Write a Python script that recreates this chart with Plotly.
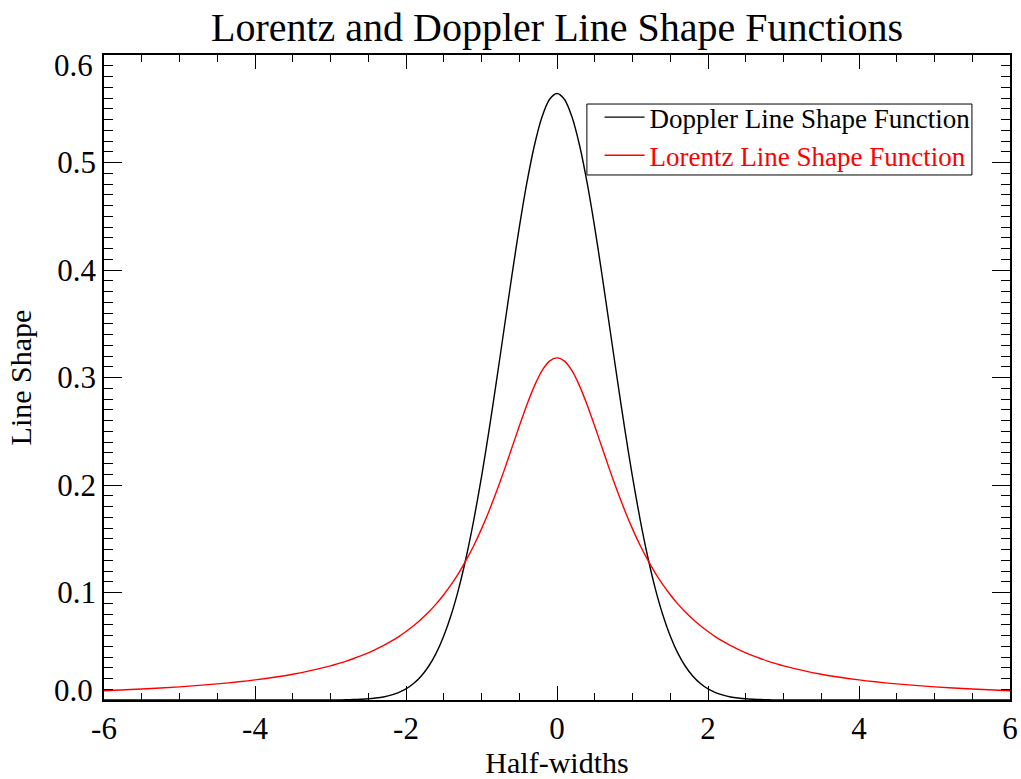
import plotly.graph_objects as go

# Half-width positions (x): coarse in the far wings, fine near the centre
half_widths = [-6.0, -5.5, -5.0, -4.5, -4.0, -3.5,
               -3.0, -2.9, -2.8, -2.7, -2.6, -2.5, -2.4, -2.3, -2.2, -2.1,
               -2.0, -1.9, -1.8, -1.7, -1.6, -1.5, -1.4, -1.3, -1.2, -1.1,
               -1.0, -0.9, -0.8, -0.7, -0.6, -0.5, -0.4, -0.3, -0.2, -0.1,
               0.0,
               0.1, 0.2, 0.3, 0.4, 0.5, 0.6, 0.7, 0.8, 0.9, 1.0,
               1.1, 1.2, 1.3, 1.4, 1.5, 1.6, 1.7, 1.8, 1.9, 2.0,
               2.1, 2.2, 2.3, 2.4, 2.5, 2.6, 2.7, 2.8, 2.9, 3.0,
               3.5, 4.0, 4.5, 5.0, 5.5, 6.0]

doppler = [0.0, 0.0, 0.0, 0.0, 0.0, 0.0,
           0.0001, 0.0001, 0.0002, 0.0004, 0.0007, 0.0011, 0.0018, 0.0028, 0.0045, 0.0069,
           0.0103, 0.0153, 0.0221, 0.0314, 0.0436, 0.0595, 0.0795, 0.1041, 0.1337, 0.1682,
           0.2076, 0.2510, 0.2975, 0.3456, 0.3936, 0.4394, 0.4808, 0.5156, 0.5421, 0.5586,
           0.5642,
           0.5586, 0.5421, 0.5156, 0.4808, 0.4394, 0.3936, 0.3456, 0.2975, 0.2510, 0.2076,
           0.1682, 0.1337, 0.1041, 0.0795, 0.0595, 0.0436, 0.0314, 0.0221, 0.0153, 0.0103,
           0.0069, 0.0045, 0.0028, 0.0018, 0.0011, 0.0007, 0.0004, 0.0002, 0.0001, 0.0001,
           0.0, 0.0, 0.0, 0.0, 0.0, 0.0]

lorentz = [0.0086, 0.0102, 0.0122, 0.0150, 0.0187, 0.0240,
           0.0318, 0.0338, 0.0360, 0.0384, 0.0410, 0.0439, 0.0471, 0.0506, 0.0545, 0.0588,
           0.0637, 0.0690, 0.0751, 0.0818, 0.0894, 0.0979, 0.1075, 0.1183, 0.1305, 0.1440,
           0.1592, 0.1759, 0.1941, 0.2136, 0.2341, 0.2546, 0.2744, 0.2920, 0.3061, 0.3152,
           0.3183,
           0.3152, 0.3061, 0.2920, 0.2744, 0.2546, 0.2341, 0.2136, 0.1941, 0.1759, 0.1592,
           0.1440, 0.1305, 0.1183, 0.1075, 0.0979, 0.0894, 0.0818, 0.0751, 0.0690, 0.0637,
           0.0588, 0.0545, 0.0506, 0.0471, 0.0439, 0.0410, 0.0384, 0.0360, 0.0338, 0.0318,
           0.0240, 0.0187, 0.0150, 0.0122, 0.0102, 0.0086]

x_ticks = [-6, -4, -2, 0, 2, 4, 6]
x_tick_labels = ["-6", "-4", "-2", "0", "2", "4", "6"]
y_ticks = [0.0, 0.1, 0.2, 0.3, 0.4, 0.5, 0.6]
y_tick_labels = ["0.0", "0.1", "0.2", "0.3", "0.4", "0.5", "0.6"]

FONT = "Liberation Serif"

fig = go.Figure()
fig.add_trace(go.Scatter(x=half_widths, y=doppler, mode="lines",
                         line=dict(color="black", width=1.4, shape="spline", smoothing=0.8),
                         name="Doppler Line Shape Function"))
fig.add_trace(go.Scatter(x=half_widths, y=lorentz, mode="lines",
                         line=dict(color="red", width=1.4, shape="spline", smoothing=0.8),
                         name='<span style="color:red">Lorentz Line Shape Function</span>'))

# end labels of the y axis sit slightly inside the frame in the reference
inner_labels = [y_tick_labels[i] if 0 < i < len(y_ticks) - 1 else "" for i in range(len(y_ticks))]
for val, lab, shift in [(y_ticks[0], y_tick_labels[0], 10), (y_ticks[-1], y_tick_labels[-1], -10)]:
    fig.add_annotation(x=0, xref="paper", y=val, yref="y", text=lab, showarrow=False,
                       xanchor="right", yanchor="middle", xshift=-9, yshift=shift,
                       font=dict(family=FONT, size=31, color="black"))

# legend frame (white box with black border, drawn over the curves)
fig.add_shape(type="rect", xref="paper", yref="paper",
              x0=0.533, x1=0.958, y0=0.814, y1=0.924,
              line=dict(color="black", width=1), fillcolor="white", layer="above")

fig.update_layout(
    width=1021, height=779,
    margin=dict(l=104, r=11, t=55, b=79),
    paper_bgcolor="white", plot_bgcolor="white",
    font=dict(family=FONT, color="black", size=28),
    title=dict(text="Lorentz and Doppler Line Shape Functions",
               x=0.5, xref="paper", xanchor="center", y=0.965, yanchor="middle",
               font=dict(family=FONT, size=40, color="black")),
    showlegend=True,
    legend=dict(x=0.547, y=0.941, xanchor="left", yanchor="top",
                bgcolor="rgba(0,0,0,0)", borderwidth=0,
                font=dict(family=FONT, size=27, color="black"),
                tracegroupgap=0, itemwidth=40),
)

fig.update_xaxes(
    range=[-6, 6], tickvals=x_ticks, ticktext=x_tick_labels, automargin=False,
    showgrid=False, zeroline=False, showline=True, linecolor="black", linewidth=1.5,
    mirror="ticks", ticks="inside", ticklen=14, tickwidth=1, tickcolor="black",
    minor=dict(dtick=0.5, ticks="inside", ticklen=7, tickwidth=1, tickcolor="black"),
    tickfont=dict(family=FONT, size=31),
    title=dict(text="Half-widths", font=dict(family=FONT, size=30), standoff=12),
)
fig.update_yaxes(
    range=[0, 0.6], tickvals=y_ticks, ticktext=inner_labels, automargin=False,
    showgrid=False, zeroline=False, showline=True, linecolor="black", linewidth=1.5,
    mirror="ticks", ticks="inside", ticklen=18, tickwidth=1, tickcolor="black",
    minor=dict(dtick=0.01, ticks="inside", ticklen=9, tickwidth=1, tickcolor="black"),
    tickfont=dict(family=FONT, size=31),
    title=dict(text="Line Shape", font=dict(family=FONT, size=30), standoff=17),
)

fig.write_html("out.html")
